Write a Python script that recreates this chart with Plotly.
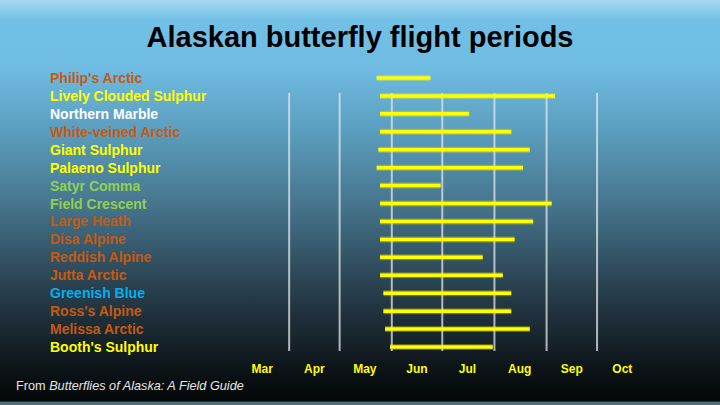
import base64
import plotly.graph_objects as go

# Flight periods (year only used to place dates on the axis)
species = [
    "Philip's Arctic", "Lively Clouded Sulphur", "Northern Marble", "White-veined Arctic",
    "Giant Sulphur", "Palaeno Sulphur", "Satyr Comma", "Field Crescent",
    "Large Heath", "Disa Alpine", "Reddish Alpine", "Jutta Arctic",
    "Greenish Blue", "Ross's Alpine", "Melissa Arctic", "Booth's Sulphur",
]
start = [
    "2023-05-23", "2023-05-25", "2023-05-25", "2023-05-25",
    "2023-05-24", "2023-05-23", "2023-05-25", "2023-05-25",
    "2023-05-25", "2023-05-25", "2023-05-25", "2023-05-25",
    "2023-05-27", "2023-05-27", "2023-05-28", "2023-05-31",
]
finish = [
    "2023-06-24", "2023-09-06", "2023-07-17", "2023-08-11",
    "2023-08-22", "2023-08-18", "2023-06-30", "2023-09-04",
    "2023-08-24", "2023-08-13", "2023-07-25", "2023-08-06",
    "2023-08-11", "2023-08-11", "2023-08-22", "2023-07-31",
]
label_colors = [
    "#c55a11", "#ffff00", "#ffffff", "#c55a11",
    "#ffff00", "#ffff00", "#92d050", "#92d050",
    "#c55a11", "#c55a11", "#c55a11", "#c55a11",
    "#00b0f0", "#c55a11", "#c55a11", "#ffff00",
]
months = ["Mar", "Apr", "May", "Jun", "Jul", "Aug", "Sep", "Oct"]
month_mid = ["2023-03-16", "2023-04-16", "2023-05-16", "2023-06-16",
             "2023-07-16", "2023-08-16", "2023-09-16", "2023-10-16"]
month_lines = ["2023-04-01", "2023-05-01", "2023-06-01", "2023-07-01",
               "2023-08-01", "2023-09-01", "2023-10-01"]

W, H = 720, 405
L, R, T, B = 237, 59, 69, 49
pw, ph = W - L - R, H - T - B

def px(x):
    return (x - L) / pw

def py(y):
    return (H - B - y) / ph

# background gradient as an svg image
svg = f"""<svg xmlns='http://www.w3.org/2000/svg' width='{W}' height='{H}'>
<defs><linearGradient id='g' x1='0' y1='0' x2='0' y2='1'>
<stop offset='0' stop-color='#a6d9f1'/>
<stop offset='0.05' stop-color='#72c0e6'/>
<stop offset='0.16' stop-color='#70bde4'/>
<stop offset='0.33' stop-color='#5a9cbc'/>
<stop offset='0.5' stop-color='#46768e'/>
<stop offset='0.67' stop-color='#2e4a5a'/>
<stop offset='0.79' stop-color='#1e2e38'/>
<stop offset='0.91' stop-color='#0c1418'/>
<stop offset='0.99' stop-color='#040707'/>
<stop offset='0.993' stop-color='#4a7080'/>
<stop offset='1' stop-color='#4a7080'/>
</linearGradient></defs>
<rect width='{W}' height='{H}' fill='url(#g)'/></svg>"""
bg = "data:image/svg+xml;base64," + base64.b64encode(svg.encode()).decode()

xs, ys = [], []
for s, a, b in zip(species, start, finish):
    xs += [a, b, None]
    ys += [s, s, None]

fig = go.Figure()
fig.add_trace(go.Scatter(x=xs, y=ys, mode="lines",
                         line=dict(color="rgba(255,255,0,0.3)", width=6),
                         hoverinfo="skip", showlegend=False))
fig.add_trace(go.Scatter(x=xs, y=ys, mode="lines",
                         line=dict(color="#ffff00", width=3.5),
                         showlegend=False))

for m in month_lines:
    fig.add_shape(type="line", x0=m, x1=m, xref="x", yref="paper",
                  y0=py(351), y1=py(93), layer="below",
                  line=dict(color="rgba(225,230,235,0.75)", width=2))

for s, c in zip(species, label_colors):
    fig.add_annotation(x=px(48), xref="paper", xanchor="left", y=s, yref="y",
                       text=f"<b>{s}</b>", showarrow=False,
                       font=dict(size=14, color=c, family="Liberation Sans"))

fig.add_annotation(x=px(14), xref="paper", xanchor="left", y=py(386), yref="paper",
                   yanchor="middle",
                   text="From <i>Butterflies of Alaska: A Field Guide</i>", showarrow=False,
                   font=dict(size=12.7, color="#e6e6e6", family="Liberation Sans"))

fig.add_layout_image(source=bg, xref="paper", yref="paper", x=px(0), y=py(0),
                     sizex=W / pw, sizey=H / ph, xanchor="left", yanchor="top",
                     sizing="stretch", layer="below")

fig.update_layout(
    width=W, height=H,
    margin=dict(l=L, r=R, t=T, b=B),
    paper_bgcolor="#1e2e38", plot_bgcolor="rgba(0,0,0,0)",
    title=dict(text="<b>Alaskan butterfly flight periods</b>", x=0.5, xanchor="center",
               y=1 - 37 / H, yanchor="middle",
               font=dict(size=29, color="#000000", family="Liberation Sans")),
    xaxis=dict(type="date", range=["2023-03-01", "2023-11-08"], showgrid=False,
               zeroline=False, showline=False, tickvals=month_mid, ticktext=months,
               tickfont=dict(size=12, color="#ffff00", family="Liberation Sans", weight="bold"),
               ticklabelstandoff=4),
    yaxis=dict(type="category", categoryarray=species, range=[15.5, -0.5],
               showgrid=False, zeroline=False, showticklabels=False),
)

fig.write_html("out.html", config={"displayModeBar": False},
               post_script="document.body.style.margin='0';")
